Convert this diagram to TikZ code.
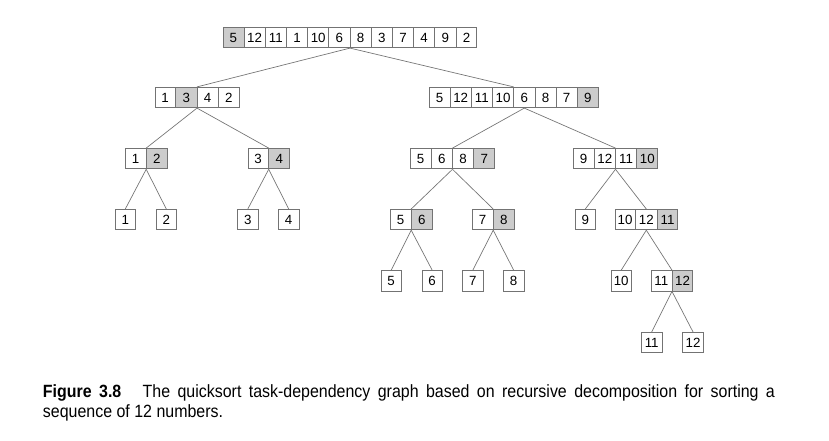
\documentclass[tikz,border=0pt]{standalone}
\usepackage{fontspec}
\setmainfont{Liberation Sans}
\newfontfamily\capfont[FakeStretch=0.9]{Liberation Sans}
\usepackage{tikz}
\usetikzlibrary{shapes.multipart,calc}
\definecolor{pivot}{gray}{0.8}
\definecolor{edge}{gray}{0.45}

\begin{document}
\begin{tikzpicture}[x=0.75pt,y=-0.75pt,
        cell/.style = {draw=edge, line width=0.6pt, inner sep=0pt, minimum width=15.3pt, minimum height=15.3pt, font=\fontsize{10}{12}\selectfont},
        arr/.style = {cell, rectangle split, rectangle split horizontal, rectangle split parts=#1, text width=15.3pt, align=center, minimum width=0pt},
        link/.style = {draw=edge, line width=0.5pt},
        caption/.style = {anchor=north west, inner sep=0pt, text width=549pt, align=justify, font=\capfont\fontsize{13.3}{15}\selectfont}]
        \path[fill=white,use as bounding box] (0,0) rectangle (829,441);

        % level 0
        \node[arr=12,rectangle split part fill={pivot,white}] (top) at (350,37.5) {5\nodepart{two}12\nodepart{three}11\nodepart{four}1\nodepart{five}10\nodepart{six}6\nodepart{seven}8\nodepart{eight}3\nodepart{nine}7\nodepart{ten}4\nodepart{eleven}9\nodepart{twelve}2};

        % level 1
        \node[arr=4,rectangle split part fill={white,pivot,white}] (a) at (197,97.5) {1\nodepart{two}3\nodepart{three}4\nodepart{four}2};
        \node[arr=8,rectangle split part fill={white,white,white,white,white,white,white,pivot}] (b) at (513.7,97.5) {5\nodepart{two}12\nodepart{three}11\nodepart{four}10\nodepart{five}6\nodepart{six}8\nodepart{seven}7\nodepart{eight}9};
        \coordinate (bsplit) at ($(b.south west)!0.5625!(b.south east)$);

        % level 2
        \node[arr=2,rectangle split part fill={white,pivot}] (aa) at (146.2,158.7) {1\nodepart{two}2};
        \node[arr=2,rectangle split part fill={white,pivot}] (ab) at (268.7,158.7) {3\nodepart{two}4};
        \node[arr=4,rectangle split part fill={white,white,white,pivot}] (ba) at (452.5,158.7) {5\nodepart{two}6\nodepart{three}8\nodepart{four}7};
        \node[arr=4,rectangle split part fill={white,white,white,pivot}] (bb) at (615.5,158.7) {9\nodepart{two}12\nodepart{three}11\nodepart{four}10};

        % level 3
        \node[cell] (aaa) at (125.3,219.6) {1};
        \node[cell] (aab) at (166.3,219.6) {2};
        \node[cell] (aba) at (247.8,219.6) {3};
        \node[cell] (abb) at (288.7,219.6) {4};
        \node[arr=2,rectangle split part fill={white,pivot}] (baa) at (411.2,219.6) {5\nodepart{two}6};
        \node[arr=2,rectangle split part fill={white,pivot}] (bab) at (493.2,219.6) {7\nodepart{two}8};
        \node[cell] (bba) at (585.3,219.6) {9};
        \node[arr=3,rectangle split part fill={white,white,pivot}] (bbb) at (646.3,219.6) {10\nodepart{two}12\nodepart{three}11};

        % level 4
        \node[cell] (baaa) at (391.2,280.8) {5};
        \node[cell] (baab) at (432.2,280.8) {6};
        \node[cell] (baba) at (472.8,280.8) {7};
        \node[cell] (babb) at (513.7,280.8) {8};
        \node[cell] (bbba) at (621.2,280.8) {10};
        \node[arr=2,rectangle split part fill={white,pivot}] (bbbb) at (672,280.8) {11\nodepart{two}12};

        % level 5
        \node[cell] (bbbba) at (651.7,342.5) {11};
        \node[cell] (bbbbb) at (693,342.5) {12};

        \draw[link] (top.south) to (a.north);
        \draw[link] (top.south) to (b.north);
        \draw[link] (a.south) to (aa.north);
        \draw[link] (a.south) to (ab.north);
        \draw[link] (bsplit) to (ba.north);
        \draw[link] (bsplit) to (bb.north);
        \draw[link] (aa.south) to (aaa.north);
        \draw[link] (aa.south) to (aab.north);
        \draw[link] (ab.south) to (aba.north);
        \draw[link] (ab.south) to (abb.north);
        \draw[link] (ba.south) to (baa.north);
        \draw[link] (ba.south) to (bab.north);
        \draw[link] (bb.south) to (bba.north);
        \draw[link] (bb.south) to (bbb.north);
        \draw[link] (baa.south) to (baaa.north);
        \draw[link] (baa.south) to (baab.north);
        \draw[link] (bab.south) to (baba.north);
        \draw[link] (bab.south) to (babb.north);
        \draw[link] (bbb.south) to (bbba.north);
        \draw[link] (bbb.south) to (bbbb.north);
        \draw[link] (bbbb.south) to (bbbba.north);
        \draw[link] (bbbb.south) to (bbbbb.north);

        % caption
        \node[caption] (cap) at (42.7,384.7) {\textbf{Figure 3.8}\hspace{16pt}The quicksort task-dependency graph based on recursive decomposition for sorting a\linebreak sequence of 12 numbers.};
\end{tikzpicture}
\end{document}
